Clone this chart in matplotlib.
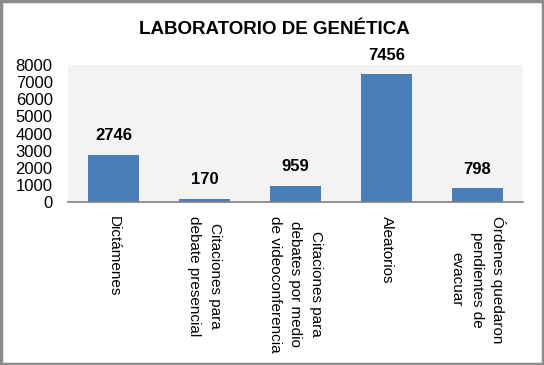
import matplotlib
matplotlib.use('Agg')
import matplotlib.pyplot as plt
from matplotlib.patches import Rectangle

plt.rcParams['font.family'] = ['Liberation Sans', 'DejaVu Sans']

# data
categories = ['Dictámenes',
              'Citaciones para\ndebate presencial',
              'Citaciones para\ndebates por medio\nde videoconferencia',
              'Aleatorios',
              'Órdenes quedaron\npendientes de\nevacuar']
values = [2746, 170, 959, 7456, 798]
yticks = [0, 1000, 2000, 3000, 4000, 5000, 6000, 7000, 8000]

bar_color = '#4a7ebb'

fig = plt.figure(figsize=(5.44, 3.65), dpi=100)
ax = fig.add_axes([68/544, 1 - 202/365, 455/544, 137/365])
ax.set_facecolor('#f3f3f3')

x = list(range(len(categories)))
ax.bar(x, values, width=0.57, color=bar_color, zorder=2)

for xi, v in zip(x, values):
    ax.annotate(str(v), (xi, v), xytext=(0, 8.5), textcoords='offset points',
                ha='center', va='bottom', fontsize=12, fontweight='bold')

ax.set_xlim(-0.5, len(categories) - 0.5)
ax.set_ylim(0, 8000)
ax.set_yticks(yticks)
ax.set_yticklabels([str(t) for t in yticks], fontsize=12)
ax.set_xticks(x)
ax.set_xticklabels(categories, rotation=270, ha='center', va='top',
                   multialignment='center', fontsize=11, linespacing=1.55)
ax.tick_params(axis='y', length=0, pad=11)
ax.tick_params(axis='x', length=0, pad=10)

for s in ['top', 'right', 'left']:
    ax.spines[s].set_visible(False)
ax.spines['bottom'].set_color('#7f7f7f')
ax.spines['bottom'].set_linewidth(1.2)
ax.spines['bottom'].set_zorder(3)

fig.text(274/544, 1 - 29/365, 'LABORATORIO DE GENÉTICA', ha='center', va='center',
         fontsize=13.5, fontweight='bold')

# outer frame
fig.patches.append(Rectangle((0.002, 0.003), 0.996, 0.994, transform=fig.transFigure,
                             fill=False, edgecolor='#8c8c8c', linewidth=2.5))

plt.savefig('out.png', dpi=100)
